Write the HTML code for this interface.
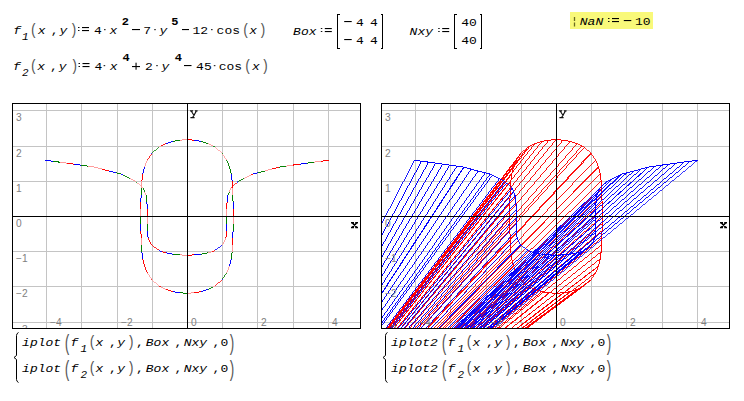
<!DOCTYPE html>
<html><head><meta charset="utf-8"><style>
*{margin:0;padding:0}
html,body{width:744px;height:401px;overflow:hidden;background:#fff}
body{position:relative;font-family:"Liberation Mono",monospace;font-size:13px;color:#000}
.t{position:absolute;white-space:pre;line-height:1}
.i{font-style:italic}
</style></head>
<body><svg width="744" height="401" viewBox="0 0 744 401" style="position:absolute;left:0;top:0"><rect x="570" y="12" width="83" height="17" fill="#f9f97a"/><path d="M574.5 17V21M574.5 22.5V26.5" stroke="#6b6b20" stroke-width="1.3"/><path d="M339.5 14.5H337.5V48.5H339.5M380.5 14.5H382.5V48.5H380.5M456.5 14.5H454.5V48.5H456.5M479.5 14.5H481.5V48.5H479.5" stroke="#000" stroke-width="1" fill="none" shape-rendering="crispEdges"/><path d="M18.5 332.5Q16.5 333.5 16.5 335.5V355.5L14 357.5L16.5 359.5V379.5Q16.5 381.5 18.5 382.5M387.5 332.5Q385.5 333.5 385.5 335.5V355.5L383 357.5L385.5 359.5V379.5Q385.5 381.5 387.5 382.5" stroke="#000" stroke-width="1" fill="none"/><clipPath id="c0"><rect x="13" y="104" width="347" height="224"/></clipPath><path d="M46.5 104V328M81.5 104V328M117.5 104V328M152.5 104V328M222.5 104V328M257.5 104V328M293.5 104V328M328.5 104V328M13 110.5H360M13 146.5H360M13 181.5H360M13 251.5H360M13 286.5H360M13 322.5H360" stroke="#c4c4c4" stroke-width="1" fill="none" shape-rendering="crispEdges"/><g clip-path="url(#c0)" fill="none" shape-rendering="crispEdges"><path d="M137.47 183.00L135.70 181.20" stroke="#008000" stroke-width="0.72"/><path d="M222.38 153.57L221.86 152.96M152.14 152.96L158.70 147.37" stroke="#008000" stroke-width="0.76"/><path d="M222.72 244.74L222.38 245.02" stroke="#008000" stroke-width="0.78"/><path d="M226.52 272.98L222.38 279.43M215.30 147.37L212.96 145.90" stroke="#008000" stroke-width="0.84"/><path d="M130.40 178.77L123.33 175.31M238.30 181.20L243.60 178.77M212.96 287.10L208.22 289.30" stroke="#008000" stroke-width="0.9"/><path d="M144.55 191.82L143.13 188.26M227.87 195.32L229.45 191.82M229.45 166.65L226.52 160.02" stroke="#008000" stroke-width="0.92"/><path d="M144.40 167.08L144.55 166.65" stroke="#008000" stroke-width="0.94"/><path d="M95.02 167.19L94.59 167.08M121.02 174.14L116.25 172.89M264.82 171.00L257.75 172.89M208.22 143.70L201.15 141.46" stroke="#008000" stroke-width="0.96"/><path d="M208.22 252.79L201.15 254.11M87.95 166.09L80.88 165.06M279.41 167.08L286.05 166.09M231.19 174.14L229.60 167.08M179.92 140.15L172.85 141.46" stroke="#008000" stroke-width="0.98"/><path d="M179.92 254.92L172.85 254.11M147.24 230.62L147.12 223.56M226.88 223.56L226.89 216.50M146.98 202.38L146.13 195.32M59.65 162.15L52.58 161.23M314.35 162.15L307.27 163.09M187.00 293.28L179.92 292.85M231.19 258.86L232.15 251.80M141.85 251.80L141.31 244.74M233.03 230.62L233.05 223.56M140.95 223.56L140.95 216.50M233.03 202.38L232.94 195.32M141.06 195.32L141.31 188.26" stroke="#008000" stroke-width="1.0"/><path d="M143.13 188.26L137.47 183.00" stroke="#ff9a9a" stroke-width="0.74"/><path d="M158.70 285.63L152.14 280.04M221.86 152.96L215.30 147.37" stroke="#ff9a9a" stroke-width="0.76"/><path d="M151.62 245.02L151.28 244.74" stroke="#ff9a9a" stroke-width="0.78"/><path d="M212.96 287.10L215.30 285.63M151.62 279.43L147.48 272.98M226.52 160.02L222.38 153.57M161.04 145.90L158.70 147.37" stroke="#ff9a9a" stroke-width="0.84"/><path d="M135.70 181.20L130.40 178.77M250.68 175.31L243.60 178.77M165.78 289.30L161.04 287.10M212.96 145.90L208.22 143.70" stroke="#ff9a9a" stroke-width="0.9"/><path d="M222.72 244.74L225.90 237.68M146.13 195.32L144.55 191.82M230.87 188.26L229.45 191.82M226.52 272.98L229.45 266.35M147.48 160.02L144.55 166.65" stroke="#ff9a9a" stroke-width="0.92"/><path d="M144.55 266.35L144.40 265.92M229.60 167.08L229.45 166.65" stroke="#ff9a9a" stroke-width="0.94"/><path d="M212.11 251.80L208.22 252.79M102.10 169.09L95.02 167.19M271.90 169.09L264.82 171.00" stroke="#ff9a9a" stroke-width="0.96"/><path d="M94.59 167.08L87.95 166.09M293.12 165.06L286.05 166.09" stroke="#ff9a9a" stroke-width="0.98"/><path d="M187.00 255.19L179.92 254.92M147.12 223.56L147.11 216.50M226.89 216.50L226.89 209.44M66.73 163.09L59.65 162.15M321.42 161.23L314.35 162.15M194.08 292.85L187.00 293.28M232.15 251.80L232.69 244.74M141.31 244.74L141.06 237.68M233.05 223.56L233.05 216.50M140.95 216.50L140.95 209.44M232.94 195.32L232.69 188.26M141.31 188.26L141.85 181.20M187.00 139.72L179.92 140.15" stroke="#ff9a9a" stroke-width="1.0"/><path d="M230.87 188.26L236.53 183.00" stroke="#ff0000" stroke-width="0.74"/><path d="M221.86 280.04L215.30 285.63M152.14 280.04L151.62 279.43" stroke="#ff0000" stroke-width="0.76"/><path d="M158.70 250.00L151.62 245.02" stroke="#ff0000" stroke-width="0.82"/><path d="M161.04 287.10L158.70 285.63M147.48 160.02L151.62 153.57" stroke="#ff0000" stroke-width="0.84"/><path d="M212.11 251.80L215.30 250.00" stroke="#ff0000" stroke-width="0.88"/><path d="M252.98 174.14L250.68 175.31M161.04 145.90L165.78 143.70" stroke="#ff0000" stroke-width="0.9"/><path d="M151.28 244.74L148.10 237.68M147.48 272.98L144.55 266.35" stroke="#ff0000" stroke-width="0.92"/><path d="M229.60 265.92L229.45 266.35" stroke="#ff0000" stroke-width="0.94"/><path d="M165.78 252.79L161.89 251.80M109.17 171.00L102.10 169.09M278.98 167.19L271.90 169.09M172.85 291.54L165.78 289.30" stroke="#ff0000" stroke-width="0.96"/><path d="M201.15 291.54L194.08 292.85M144.40 265.92L142.81 258.86" stroke="#ff0000" stroke-width="0.98"/><path d="M194.08 254.92L187.00 255.19M225.90 237.68L226.76 230.62M147.11 216.50L147.11 209.44M226.89 209.44L227.02 202.38M73.80 164.06L66.73 163.09M300.20 164.06L293.12 165.06M328.50 160.33L321.42 161.23M232.69 244.74L232.94 237.68M141.06 237.68L140.97 230.62M233.05 216.50L233.05 209.44M140.95 209.44L140.97 202.38M232.69 188.26L232.15 181.20M141.85 181.20L142.81 174.14M194.08 140.15L187.00 139.72" stroke="#ff0000" stroke-width="1.0"/><path d="M238.30 181.20L236.53 183.00" stroke="#0000ff" stroke-width="0.72"/><path d="M221.86 280.04L222.38 279.43M152.14 152.96L151.62 153.57" stroke="#0000ff" stroke-width="0.76"/><path d="M222.38 245.02L215.30 250.00" stroke="#0000ff" stroke-width="0.82"/><path d="M161.89 251.80L158.70 250.00" stroke="#0000ff" stroke-width="0.88"/><path d="M123.33 175.31L121.02 174.14" stroke="#0000ff" stroke-width="0.9"/><path d="M116.25 172.89L109.17 171.00M252.98 174.14L257.75 172.89M279.41 167.08L278.98 167.19M208.22 289.30L201.15 291.54M172.85 141.46L165.78 143.70" stroke="#0000ff" stroke-width="0.96"/><path d="M172.85 254.11L165.78 252.79M179.92 292.85L172.85 291.54M229.60 265.92L231.19 258.86M142.81 174.14L144.40 167.08M201.15 141.46L194.08 140.15" stroke="#0000ff" stroke-width="0.98"/><path d="M201.15 254.11L194.08 254.92M148.10 237.68L147.24 230.62M226.76 230.62L226.88 223.56M147.11 209.44L146.98 202.38M227.02 202.38L227.87 195.32M52.58 161.23L45.50 160.33M80.88 165.06L73.80 164.06M307.27 163.09L300.20 164.06M142.81 258.86L141.85 251.80M232.94 237.68L233.03 230.62M140.97 230.62L140.95 223.56M233.05 209.44L233.03 202.38M140.97 202.38L141.06 195.32M232.15 181.20L231.19 174.14" stroke="#0000ff" stroke-width="1.0"/></g><g clip-path="url(#c0)" fill="#808080" font-family="Liberation Sans" font-size="10.2"><text x="16" y="121">3</text><text x="16" y="157">2</text><text x="16" y="192">1</text><text x="16" y="227">0</text><text x="16" y="262">−1</text><text x="16" y="297">−2</text><text x="16" y="333">−3</text><text x="50" y="326">−4</text><text x="121" y="326">−2</text><text x="191" y="326">0</text><text x="261" y="326">2</text><text x="332" y="326">4</text></g><path d="M13 216.5H360M187.5 104V328" stroke="#000" stroke-width="1" shape-rendering="crispEdges"/><path d="M190 110.8H193M195 110.8H197.6M191.2 111L194.4 116M196.4 111L192.6 117.6M190.4 117.6H194.6" stroke="#111" stroke-width="1.15" fill="none"/><path d="M352.3 222.9L356.7 227.3M356.6 222.9L352.3 227.3M351 222.7H354M355.2 222.7H358M351 227.5H354M355.2 227.5H358" stroke="#000" stroke-width="1.5" fill="none"/><rect x="12.5" y="103.5" width="348" height="225" fill="none" stroke="#000" stroke-width="1" shape-rendering="crispEdges"/><clipPath id="c369"><rect x="382" y="104" width="347" height="224"/></clipPath><path d="M415.5 104V328M450.5 104V328M486.5 104V328M521.5 104V328M591.5 104V328M626.5 104V328M662.5 104V328M697.5 104V328M382 110.5H729M382 146.5H729M382 181.5H729M382 251.5H729M382 286.5H729M382 322.5H729" stroke="#c4c4c4" stroke-width="1" fill="none" shape-rendering="crispEdges"/><g clip-path="url(#c369)" fill="none" shape-rendering="crispEdges"><path d="M511.81 258.86L202.25 569.50M202.25 569.50L511.81 258.86M600.19 174.14L202.25 569.50M202.25 569.50L600.19 174.14" stroke="#ff0000" stroke-width="0.7"/><path d="M516.48 272.98L202.25 569.50M202.25 569.50L513.55 266.35M513.40 265.92L202.25 569.50M202.25 569.50L516.48 272.98M513.55 266.35L202.25 569.50M202.25 569.50L513.40 265.92M510.85 251.80L202.25 569.50M202.25 569.50L510.85 251.80M510.31 244.74L202.25 569.50M202.25 569.50L510.31 244.74M601.69 188.26L202.25 569.50M202.25 569.50L601.69 188.26M601.15 181.20L202.25 569.50M202.25 569.50L601.15 181.20M598.60 167.08L202.25 569.50M202.25 569.50L598.45 166.65M595.52 160.02L202.25 569.50M202.25 569.50L598.60 167.08M598.45 166.65L202.25 569.50M202.25 569.50L595.52 160.02" stroke="#ff0000" stroke-width="0.72"/><path d="M521.14 280.04L202.25 569.50M202.25 569.50L520.62 279.43M202.25 569.50L521.14 280.04M520.62 279.43L202.25 569.50M510.06 237.68L202.25 569.50M202.25 569.50L510.06 237.68M509.97 230.62L202.25 569.50M202.25 569.50L509.97 230.62M509.95 223.56L202.25 569.50M202.25 569.50L509.95 223.56M602.05 216.50L202.25 569.50M202.25 569.50L602.05 216.50M602.05 209.44L202.25 569.50M202.25 569.50L602.05 209.44M602.03 202.38L202.25 569.50M202.25 569.50L602.03 202.38M601.94 195.32L202.25 569.50M202.25 569.50L601.94 195.32M202.25 569.50L591.38 153.57M590.86 152.96L202.25 569.50M591.38 153.57L202.25 569.50M202.25 569.50L584.30 147.37M581.96 145.90L202.25 569.50M202.25 569.50L590.86 152.96M584.30 147.37L202.25 569.50M202.25 569.50L581.96 145.90" stroke="#ff0000" stroke-width="0.74"/><path d="M202.25 569.50L534.77 289.30M530.04 287.10L202.25 569.50M534.77 289.30L202.25 569.50M202.25 569.50L527.70 285.63M527.70 285.63L521.14 280.04M202.25 569.50L530.04 287.10M527.70 285.63L202.25 569.50M590.86 280.04L584.30 285.63M521.14 280.04L520.62 279.43M590.86 280.04L591.38 279.43M601.94 237.68L202.25 569.50M202.25 569.50L601.94 237.68M602.03 230.62L202.25 569.50M202.25 569.50L602.03 230.62M602.05 223.56L202.25 569.50M509.95 216.50L202.25 569.50M202.25 569.50L602.05 223.56M202.25 569.50L509.95 216.50M509.95 209.44L202.25 569.50M202.25 569.50L509.95 209.44M509.97 202.38L202.25 569.50M202.25 569.50L509.97 202.38M521.14 152.96L520.62 153.57M591.38 153.57L590.86 152.96M521.14 152.96L527.70 147.37M590.86 152.96L584.30 147.37M202.25 569.50L563.08 140.15M202.25 569.50L570.15 141.46M563.08 140.15L202.25 569.50M202.25 569.50L577.23 143.70M570.15 141.46L202.25 569.50M577.23 143.70L202.25 569.50" stroke="#ff0000" stroke-width="0.76"/><path d="M202.25 569.50L541.85 291.54M202.25 569.50L548.92 292.85M541.85 291.54L202.25 569.50M202.25 569.50L556.00 293.28M548.92 292.85L202.25 569.50M556.00 293.28L202.25 569.50M600.19 258.86L202.25 569.50M202.25 569.50L600.19 258.86M601.15 251.80L202.25 569.50M202.25 569.50L601.15 251.80M601.69 244.74L202.25 569.50M202.25 569.50L601.69 244.74M510.06 195.32L202.25 569.50M202.25 569.50L510.06 195.32M510.31 188.26L202.25 569.50M202.25 569.50L510.31 188.26M510.85 181.20L202.25 569.50M202.25 569.50L510.85 181.20M511.81 174.14L202.25 569.50M202.25 569.50L511.81 174.14M534.77 143.70L202.25 569.50M202.25 569.50L541.85 141.46M534.77 143.70L202.25 569.50M202.25 569.50L548.92 140.15M541.85 141.46L202.25 569.50M202.25 569.50L556.00 139.72M548.92 140.15L202.25 569.50M556.00 139.72L202.25 569.50" stroke="#ff0000" stroke-width="0.78"/><path d="M202.25 569.50L563.08 292.85M202.25 569.50L570.15 291.54M563.08 292.85L202.25 569.50M202.25 569.50L577.23 289.30M570.15 291.54L202.25 569.50M202.25 569.50L581.96 287.10M577.23 289.30L202.25 569.50M202.25 569.50L581.96 287.10M584.30 285.63L202.25 569.50M202.25 569.50L590.86 280.04M584.30 285.63L202.25 569.50M202.25 569.50L590.86 280.04M591.38 279.43L202.25 569.50M202.25 569.50L595.52 272.98M591.38 279.43L202.25 569.50M202.25 569.50L595.52 272.98M598.45 266.35L202.25 569.50M202.25 569.50L598.60 265.92M598.45 266.35L202.25 569.50M202.25 569.50L598.60 265.92M513.40 167.08L202.25 569.50M202.25 569.50L513.40 167.08M513.55 166.65L202.25 569.50M202.25 569.50L516.48 160.02M513.55 166.65L202.25 569.50M202.25 569.50L516.48 160.02M520.62 153.57L202.25 569.50M202.25 569.50L521.14 152.96M520.62 153.57L202.25 569.50M202.25 569.50L521.14 152.96M527.70 147.37L202.25 569.50M202.25 569.50L530.04 145.90M527.70 147.37L202.25 569.50M202.25 569.50L530.04 145.90" stroke="#ff0000" stroke-width="0.8"/><path d="M530.04 287.10L527.70 285.63M581.96 287.10L584.30 285.63M520.62 279.43L516.48 272.98M595.52 272.98L591.38 279.43M516.48 160.02L520.62 153.57M595.52 160.02L591.38 153.57M530.04 145.90L527.70 147.37M584.30 147.37L581.96 145.90" stroke="#ff0000" stroke-width="0.84"/><path d="M534.77 289.30L530.04 287.10M581.96 287.10L577.23 289.30M530.04 145.90L534.77 143.70M581.96 145.90L577.23 143.70" stroke="#ff0000" stroke-width="0.9"/><path d="M516.48 272.98L513.55 266.35M595.52 272.98L598.45 266.35M516.48 160.02L513.55 166.65M598.45 166.65L595.52 160.02" stroke="#ff0000" stroke-width="0.92"/><path d="M513.55 266.35L513.40 265.92M598.60 265.92L598.45 266.35M513.40 167.08L513.55 166.65M598.60 167.08L598.45 166.65" stroke="#ff0000" stroke-width="0.94"/><path d="M541.85 291.54L534.77 289.30M577.23 289.30L570.15 291.54M541.85 141.46L534.77 143.70M577.23 143.70L570.15 141.46" stroke="#ff0000" stroke-width="0.96"/><path d="M548.92 292.85L541.85 291.54M570.15 291.54L563.08 292.85M513.40 265.92L511.81 258.86M598.60 265.92L600.19 258.86M511.81 174.14L513.40 167.08M600.19 174.14L598.60 167.08M548.92 140.15L541.85 141.46M570.15 141.46L563.08 140.15" stroke="#ff0000" stroke-width="0.98"/><path d="M556.00 293.28L548.92 292.85M563.08 292.85L556.00 293.28M511.81 258.86L510.85 251.80M600.19 258.86L601.15 251.80M510.85 251.80L510.31 244.74M601.15 251.80L601.69 244.74M510.31 244.74L510.06 237.68M601.69 244.74L601.94 237.68M510.06 237.68L509.97 230.62M601.94 237.68L602.03 230.62M509.97 230.62L509.95 223.56M602.03 230.62L602.05 223.56M509.95 223.56L509.95 216.50M602.05 223.56L602.05 216.50M509.95 216.50L509.95 209.44M602.05 216.50L602.05 209.44M509.95 209.44L509.97 202.38M602.05 209.44L602.03 202.38M509.97 202.38L510.06 195.32M602.03 202.38L601.94 195.32M510.06 195.32L510.31 188.26M601.94 195.32L601.69 188.26M510.31 188.26L510.85 181.20M601.69 188.26L601.15 181.20M510.85 181.20L511.81 174.14M601.15 181.20L600.19 174.14M556.00 139.72L548.92 140.15M563.08 140.15L556.00 139.72" stroke="#ff0000" stroke-width="1.0"/><path d="M202.25 569.50L534.77 252.79M530.89 251.80L202.25 569.50M534.77 252.79L202.25 569.50M202.25 569.50L520.62 245.02M520.28 244.74L202.25 569.50M202.25 569.50L527.70 250.00M520.62 245.02L202.25 569.50M202.25 569.50L530.89 251.80M527.70 250.00L202.25 569.50M202.25 569.50L520.28 244.74M517.10 237.68L202.25 569.50M202.25 569.50L517.10 237.68M596.87 195.32L202.25 569.50M202.25 569.50L596.87 195.32M598.45 191.82L202.25 569.50M202.25 569.50L599.87 188.26M598.45 191.82L202.25 569.50M506.48 183.00L504.70 181.20M202.25 569.50L599.87 188.26M605.52 183.00L202.25 569.50M202.25 569.50L607.30 181.20M607.30 181.20L605.52 183.00M605.52 183.00L202.25 569.50M202.25 569.50L607.30 181.20M612.60 178.77L202.25 569.50M202.25 569.50L619.67 175.31M612.60 178.77L202.25 569.50M202.25 569.50L621.98 174.14M619.67 175.31L202.25 569.50M202.25 569.50L621.98 174.14" stroke="#0000ff" stroke-width="0.72"/><path d="M202.25 569.50L541.85 254.11M202.25 569.50L548.92 254.92M541.85 254.11L202.25 569.50M202.25 569.50L556.00 255.19M548.92 254.92L202.25 569.50M556.00 255.19L202.25 569.50M516.24 230.62L202.25 569.50M202.25 569.50L516.24 230.62M516.12 223.56L202.25 569.50M202.25 569.50L516.12 223.56M516.11 216.50L202.25 569.50M595.89 216.50L202.25 569.50M202.25 569.50L516.11 216.50M202.25 569.50L595.89 216.50M595.89 209.44L202.25 569.50M202.25 569.50L595.89 209.44M596.02 202.38L202.25 569.50M202.25 569.50L596.02 202.38M512.13 188.26L506.48 183.00M599.87 188.26L605.52 183.00M626.75 172.89L202.25 569.50M202.25 569.50L633.83 171.00M626.75 172.89L202.25 569.50M202.25 569.50L640.90 169.09M633.83 171.00L202.25 569.50M202.25 569.50L647.98 167.19M640.90 169.09L202.25 569.50M202.25 569.50L648.41 167.08M647.98 167.19L202.25 569.50M202.25 569.50L648.41 167.08M655.05 166.09L202.25 569.50M655.05 166.09L202.25 569.50" stroke="#0000ff" stroke-width="0.74"/><path d="M202.25 569.50L563.08 254.92M202.25 569.50L570.15 254.11M563.08 254.92L202.25 569.50M202.25 569.50L577.23 252.79M570.15 254.11L202.25 569.50M202.25 569.50L581.11 251.80M577.23 252.79L202.25 569.50M202.25 569.50L581.11 251.80M584.30 250.00L202.25 569.50M202.25 569.50L591.38 245.02M584.30 250.00L202.25 569.50M202.25 569.50L591.72 244.74M591.38 245.02L202.25 569.50M202.25 569.50L591.72 244.74M594.90 237.68L202.25 569.50M202.25 569.50L594.90 237.68M595.76 230.62L202.25 569.50M202.25 569.50L595.76 230.62M595.88 223.56L202.25 569.50M202.25 569.50L595.88 223.56M516.11 209.44L202.25 569.50M202.25 569.50L516.11 209.44M515.98 202.38L202.25 569.50M202.25 569.50L515.98 202.38M515.13 195.32L202.25 569.50M202.25 569.50L515.13 195.32M202.25 569.50L662.12 165.06M202.25 569.50L669.20 164.06M662.12 165.06L202.25 569.50M202.25 569.50L676.27 163.09M669.20 164.06L202.25 569.50M202.25 569.50L683.35 162.15M676.27 163.09L202.25 569.50M202.25 569.50L690.42 161.23M683.35 162.15L202.25 569.50M690.42 161.23L202.25 569.50" stroke="#0000ff" stroke-width="0.76"/><path d="M520.62 245.02L520.28 244.74M591.72 244.74L591.38 245.02M202.25 569.50L513.55 191.82M512.13 188.26L202.25 569.50M513.55 191.82L202.25 569.50M202.25 569.50L506.48 183.00M504.70 181.20L202.25 569.50M202.25 569.50L512.13 188.26M506.48 183.00L202.25 569.50M202.25 569.50L504.70 181.20M202.25 569.50L697.50 160.33" stroke="#0000ff" stroke-width="0.78"/><path d="M202.25 569.50L492.32 175.31M490.02 174.14L202.25 569.50M202.25 569.50L499.40 178.77M492.32 175.31L202.25 569.50M499.40 178.77L202.25 569.50M202.25 569.50L490.02 174.14" stroke="#0000ff" stroke-width="0.8"/><path d="M527.70 250.00L520.62 245.02M591.38 245.02L584.30 250.00M202.25 569.50L478.18 171.00M202.25 569.50L485.25 172.89M478.18 171.00L202.25 569.50M485.25 172.89L202.25 569.50" stroke="#0000ff" stroke-width="0.82"/><path d="M202.25 569.50L464.02 167.19M463.59 167.08L202.25 569.50M202.25 569.50L471.10 169.09M464.02 167.19L202.25 569.50M471.10 169.09L202.25 569.50M202.25 569.50L456.95 166.09M202.25 569.50L463.59 167.08M456.95 166.09L202.25 569.50" stroke="#0000ff" stroke-width="0.84"/><path d="M202.25 569.50L435.73 163.09M202.25 569.50L442.80 164.06M435.73 163.09L202.25 569.50M202.25 569.50L449.88 165.06M442.80 164.06L202.25 569.50M449.88 165.06L202.25 569.50" stroke="#0000ff" stroke-width="0.86"/><path d="M530.89 251.80L527.70 250.00M581.11 251.80L584.30 250.00M202.25 569.50L421.58 161.23M414.50 160.33L202.25 569.50M202.25 569.50L428.65 162.15M421.58 161.23L202.25 569.50M428.65 162.15L202.25 569.50" stroke="#0000ff" stroke-width="0.88"/><path d="M492.32 175.31L490.02 174.14M499.40 178.77L492.32 175.31M504.70 181.20L499.40 178.77M607.30 181.20L612.60 178.77M619.67 175.31L612.60 178.77M621.98 174.14L619.67 175.31" stroke="#0000ff" stroke-width="0.9"/><path d="M520.28 244.74L517.10 237.68M591.72 244.74L594.90 237.68M513.55 191.82L512.13 188.26M515.13 195.32L513.55 191.82M596.87 195.32L598.45 191.82M599.87 188.26L598.45 191.82" stroke="#0000ff" stroke-width="0.92"/><path d="M534.77 252.79L530.89 251.80M581.11 251.80L577.23 252.79M464.02 167.19L463.59 167.08M471.10 169.09L464.02 167.19M478.18 171.00L471.10 169.09M485.25 172.89L478.18 171.00M490.02 174.14L485.25 172.89M621.98 174.14L626.75 172.89M633.83 171.00L626.75 172.89M640.90 169.09L633.83 171.00M647.98 167.19L640.90 169.09M648.41 167.08L647.98 167.19" stroke="#0000ff" stroke-width="0.96"/><path d="M541.85 254.11L534.77 252.79M577.23 252.79L570.15 254.11M456.95 166.09L449.88 165.06M463.59 167.08L456.95 166.09M648.41 167.08L655.05 166.09M662.12 165.06L655.05 166.09" stroke="#0000ff" stroke-width="0.98"/><path d="M548.92 254.92L541.85 254.11M556.00 255.19L548.92 254.92M563.08 254.92L556.00 255.19M570.15 254.11L563.08 254.92M517.10 237.68L516.24 230.62M594.90 237.68L595.76 230.62M516.24 230.62L516.12 223.56M595.76 230.62L595.88 223.56M516.12 223.56L516.11 216.50M595.88 223.56L595.89 216.50M516.11 216.50L516.11 209.44M595.89 216.50L595.89 209.44M516.11 209.44L515.98 202.38M595.89 209.44L596.02 202.38M515.98 202.38L515.13 195.32M596.02 202.38L596.87 195.32M421.58 161.23L414.50 160.33M428.65 162.15L421.58 161.23M435.73 163.09L428.65 162.15M442.80 164.06L435.73 163.09M449.88 165.06L442.80 164.06M669.20 164.06L662.12 165.06M676.27 163.09L669.20 164.06M683.35 162.15L676.27 163.09M690.42 161.23L683.35 162.15M697.50 160.33L690.42 161.23" stroke="#0000ff" stroke-width="1.0"/></g><g clip-path="url(#c369)" fill="#808080" font-family="Liberation Sans" font-size="10.2"><text x="385" y="121">3</text><text x="385" y="157">2</text><text x="385" y="192">1</text><text x="385" y="227">0</text><text x="385" y="262">−1</text><text x="385" y="297">−2</text><text x="385" y="333">−3</text><text x="419" y="326">−4</text><text x="490" y="326">−2</text><text x="560" y="326">0</text><text x="630" y="326">2</text><text x="701" y="326">4</text></g><path d="M382 216.5H729M556.5 104V328" stroke="#000" stroke-width="1" shape-rendering="crispEdges"/><path d="M559 110.8H562M564 110.8H566.6M560.2 111L563.4 116M565.4 111L561.6 117.6M559.4 117.6H563.6" stroke="#111" stroke-width="1.15" fill="none"/><path d="M721.3 222.9L725.7 227.3M725.6 222.9L721.3 227.3M720 222.7H723M724.2 222.7H727M720 227.5H723M724.2 227.5H727" stroke="#000" stroke-width="1.5" fill="none"/><rect x="381.5" y="103.5" width="348" height="225" fill="none" stroke="#000" stroke-width="1" shape-rendering="crispEdges"/><text transform="translate(13.20,34.00) scale(1,0.86)" font-family="Liberation Mono" font-size="13" font-style="italic" font-weight="normal" fill="#000">f</text><text transform="translate(22.00,40.00) scale(1,0.92)" font-family="Liberation Mono" font-size="11" font-style="italic" font-weight="normal" fill="#000">1</text><text transform="translate(29.80,35.00) scale(1,1.2)" font-family="Liberation Mono" font-size="13" font-style="normal" font-weight="normal" fill="#555">(</text><text transform="translate(37.80,34.00) scale(1,0.86)" font-family="Liberation Mono" font-size="13" font-style="italic" font-weight="normal" fill="#000">x</text><text transform="translate(50.70,34.00) scale(1,0.885)" font-family="Liberation Mono" font-size="13" font-style="normal" font-weight="normal" fill="#000">,</text><text transform="translate(59.60,34.00) scale(1,0.86)" font-family="Liberation Mono" font-size="13" font-style="italic" font-weight="normal" fill="#000">y</text><text transform="translate(69.70,35.00) scale(1,1.2)" font-family="Liberation Mono" font-size="13" font-style="normal" font-weight="normal" fill="#555">)</text><text transform="translate(94.00,34.00) scale(1,0.885)" font-family="Liberation Mono" font-size="13" font-style="normal" font-weight="normal" fill="#000">4</text><text transform="translate(109.60,34.00) scale(1,0.86)" font-family="Liberation Mono" font-size="13" font-style="italic" font-weight="normal" fill="#000">x</text><text transform="translate(121.70,25.00) scale(1,0.9)" font-family="Liberation Mono" font-size="12" font-style="normal" font-weight="bold" fill="#000">2</text><text transform="translate(143.30,34.00) scale(1,0.885)" font-family="Liberation Mono" font-size="13" font-style="normal" font-weight="normal" fill="#000">7</text><text transform="translate(159.60,34.00) scale(1,0.86)" font-family="Liberation Mono" font-size="13" font-style="italic" font-weight="normal" fill="#000">y</text><text transform="translate(171.20,25.00) scale(1,0.9)" font-family="Liberation Mono" font-size="12" font-style="normal" font-weight="bold" fill="#000">5</text><text transform="translate(192.50,34.00) scale(1,0.885)" font-family="Liberation Mono" font-size="13" font-style="normal" font-weight="normal" fill="#000">12</text><text transform="translate(216.60,34.00) scale(1,0.885)" font-family="Liberation Mono" font-size="13" font-style="normal" font-weight="normal" fill="#000">cos</text><text transform="translate(241.90,35.00) scale(1,1.2)" font-family="Liberation Mono" font-size="13" font-style="normal" font-weight="normal" fill="#555">(</text><text transform="translate(249.20,34.00) scale(1,0.86)" font-family="Liberation Mono" font-size="13" font-style="italic" font-weight="normal" fill="#000">x</text><text transform="translate(258.70,35.00) scale(1,1.2)" font-family="Liberation Mono" font-size="13" font-style="normal" font-weight="normal" fill="#555">)</text><text transform="translate(13.00,70.00) scale(1,0.86)" font-family="Liberation Mono" font-size="13" font-style="italic" font-weight="normal" fill="#000">f</text><text transform="translate(22.10,76.00) scale(1,0.92)" font-family="Liberation Mono" font-size="11" font-style="italic" font-weight="normal" fill="#000">2</text><text transform="translate(29.70,71.00) scale(1,1.2)" font-family="Liberation Mono" font-size="13" font-style="normal" font-weight="normal" fill="#555">(</text><text transform="translate(37.20,70.00) scale(1,0.86)" font-family="Liberation Mono" font-size="13" font-style="italic" font-weight="normal" fill="#000">x</text><text transform="translate(50.00,70.00) scale(1,0.885)" font-family="Liberation Mono" font-size="13" font-style="normal" font-weight="normal" fill="#000">,</text><text transform="translate(58.80,70.00) scale(1,0.86)" font-family="Liberation Mono" font-size="13" font-style="italic" font-weight="normal" fill="#000">y</text><text transform="translate(70.50,71.00) scale(1,1.2)" font-family="Liberation Mono" font-size="13" font-style="normal" font-weight="normal" fill="#555">)</text><text transform="translate(94.50,70.00) scale(1,0.885)" font-family="Liberation Mono" font-size="13" font-style="normal" font-weight="normal" fill="#000">4</text><text transform="translate(109.80,70.00) scale(1,0.86)" font-family="Liberation Mono" font-size="13" font-style="italic" font-weight="normal" fill="#000">x</text><text transform="translate(122.40,61.00) scale(1,0.9)" font-family="Liberation Mono" font-size="12" font-style="normal" font-weight="bold" fill="#000">4</text><text transform="translate(145.00,70.00) scale(1,0.885)" font-family="Liberation Mono" font-size="13" font-style="normal" font-weight="normal" fill="#000">2</text><text transform="translate(161.50,70.00) scale(1,0.86)" font-family="Liberation Mono" font-size="13" font-style="italic" font-weight="normal" fill="#000">y</text><text transform="translate(174.80,61.00) scale(1,0.9)" font-family="Liberation Mono" font-size="12" font-style="normal" font-weight="bold" fill="#000">4</text><text transform="translate(196.10,70.00) scale(1,0.885)" font-family="Liberation Mono" font-size="13" font-style="normal" font-weight="normal" fill="#000">45</text><text transform="translate(218.70,70.00) scale(1,0.885)" font-family="Liberation Mono" font-size="13" font-style="normal" font-weight="normal" fill="#000">cos</text><text transform="translate(243.90,71.00) scale(1,1.2)" font-family="Liberation Mono" font-size="13" font-style="normal" font-weight="normal" fill="#555">(</text><text transform="translate(251.90,70.00) scale(1,0.86)" font-family="Liberation Mono" font-size="13" font-style="italic" font-weight="normal" fill="#000">x</text><text transform="translate(261.30,71.00) scale(1,1.2)" font-family="Liberation Mono" font-size="13" font-style="normal" font-weight="normal" fill="#555">)</text><text transform="translate(293.10,35.00) scale(1,0.86)" font-family="Liberation Mono" font-size="13" font-style="italic" font-weight="normal" fill="#000">Box</text><text transform="translate(356.00,26.00) scale(1,0.885)" font-family="Liberation Mono" font-size="13" font-style="normal" font-weight="normal" fill="#000">4</text><text transform="translate(370.00,26.00) scale(1,0.885)" font-family="Liberation Mono" font-size="13" font-style="normal" font-weight="normal" fill="#000">4</text><text transform="translate(356.00,44.00) scale(1,0.885)" font-family="Liberation Mono" font-size="13" font-style="normal" font-weight="normal" fill="#000">4</text><text transform="translate(370.00,44.00) scale(1,0.885)" font-family="Liberation Mono" font-size="13" font-style="normal" font-weight="normal" fill="#000">4</text><text transform="translate(409.60,35.00) scale(1,0.86)" font-family="Liberation Mono" font-size="13" font-style="italic" font-weight="normal" fill="#000">Nxy</text><text transform="translate(461.30,26.00) scale(1,0.885)" font-family="Liberation Mono" font-size="13" font-style="normal" font-weight="normal" fill="#000">40</text><text transform="translate(461.30,44.00) scale(1,0.885)" font-family="Liberation Mono" font-size="13" font-style="normal" font-weight="normal" fill="#000">40</text><text transform="translate(579.80,25.00) scale(1,0.86)" font-family="Liberation Mono" font-size="13" font-style="italic" font-weight="normal" fill="#000">NaN</text><text transform="translate(635.00,25.00) scale(1,0.885)" font-family="Liberation Mono" font-size="13" font-style="normal" font-weight="normal" fill="#000">10</text><text transform="translate(22.10,346.00) scale(1,0.86)" font-family="Liberation Mono" font-size="13" font-style="italic" font-weight="normal" fill="#000">iplot</text><text transform="translate(63.60,350.00) scale(1,1.65)" font-family="Liberation Mono" font-size="13" font-style="normal" font-weight="normal" fill="#555">(</text><text transform="translate(70.50,346.00) scale(1,0.86)" font-family="Liberation Mono" font-size="13" font-style="italic" font-weight="normal" fill="#000">f</text><text transform="translate(80.40,352.00) scale(1,0.92)" font-family="Liberation Mono" font-size="11" font-style="italic" font-weight="normal" fill="#000">1</text><text transform="translate(88.60,347.00) scale(1,1.2)" font-family="Liberation Mono" font-size="13" font-style="normal" font-weight="normal" fill="#555">(</text><text transform="translate(95.50,346.00) scale(1,0.86)" font-family="Liberation Mono" font-size="13" font-style="italic" font-weight="normal" fill="#000">x</text><text transform="translate(109.00,346.00) scale(1,0.885)" font-family="Liberation Mono" font-size="13" font-style="normal" font-weight="normal" fill="#000">,</text><text transform="translate(117.30,346.00) scale(1,0.86)" font-family="Liberation Mono" font-size="13" font-style="italic" font-weight="normal" fill="#000">y</text><text transform="translate(126.90,347.00) scale(1,1.2)" font-family="Liberation Mono" font-size="13" font-style="normal" font-weight="normal" fill="#555">)</text><text transform="translate(136.00,346.00) scale(1,0.885)" font-family="Liberation Mono" font-size="13" font-style="normal" font-weight="normal" fill="#000">,</text><text transform="translate(145.80,346.00) scale(1,0.86)" font-family="Liberation Mono" font-size="13" font-style="italic" font-weight="normal" fill="#000">Box</text><text transform="translate(174.60,346.00) scale(1,0.885)" font-family="Liberation Mono" font-size="13" font-style="normal" font-weight="normal" fill="#000">,</text><text transform="translate(183.70,346.00) scale(1,0.86)" font-family="Liberation Mono" font-size="13" font-style="italic" font-weight="normal" fill="#000">Nxy</text><text transform="translate(212.50,346.00) scale(1,0.885)" font-family="Liberation Mono" font-size="13" font-style="normal" font-weight="normal" fill="#000">,</text><text transform="translate(220.60,346.00) scale(1,0.885)" font-family="Liberation Mono" font-size="13" font-style="normal" font-weight="normal" fill="#000">0</text><text transform="translate(227.70,350.00) scale(1,1.65)" font-family="Liberation Mono" font-size="13" font-style="normal" font-weight="normal" fill="#555">)</text><text transform="translate(22.10,372.00) scale(1,0.86)" font-family="Liberation Mono" font-size="13" font-style="italic" font-weight="normal" fill="#000">iplot</text><text transform="translate(63.60,376.00) scale(1,1.65)" font-family="Liberation Mono" font-size="13" font-style="normal" font-weight="normal" fill="#555">(</text><text transform="translate(70.50,372.00) scale(1,0.86)" font-family="Liberation Mono" font-size="13" font-style="italic" font-weight="normal" fill="#000">f</text><text transform="translate(80.40,378.00) scale(1,0.92)" font-family="Liberation Mono" font-size="11" font-style="italic" font-weight="normal" fill="#000">2</text><text transform="translate(88.60,373.00) scale(1,1.2)" font-family="Liberation Mono" font-size="13" font-style="normal" font-weight="normal" fill="#555">(</text><text transform="translate(95.50,372.00) scale(1,0.86)" font-family="Liberation Mono" font-size="13" font-style="italic" font-weight="normal" fill="#000">x</text><text transform="translate(109.00,372.00) scale(1,0.885)" font-family="Liberation Mono" font-size="13" font-style="normal" font-weight="normal" fill="#000">,</text><text transform="translate(117.30,372.00) scale(1,0.86)" font-family="Liberation Mono" font-size="13" font-style="italic" font-weight="normal" fill="#000">y</text><text transform="translate(126.90,373.00) scale(1,1.2)" font-family="Liberation Mono" font-size="13" font-style="normal" font-weight="normal" fill="#555">)</text><text transform="translate(136.00,372.00) scale(1,0.885)" font-family="Liberation Mono" font-size="13" font-style="normal" font-weight="normal" fill="#000">,</text><text transform="translate(145.80,372.00) scale(1,0.86)" font-family="Liberation Mono" font-size="13" font-style="italic" font-weight="normal" fill="#000">Box</text><text transform="translate(174.60,372.00) scale(1,0.885)" font-family="Liberation Mono" font-size="13" font-style="normal" font-weight="normal" fill="#000">,</text><text transform="translate(183.70,372.00) scale(1,0.86)" font-family="Liberation Mono" font-size="13" font-style="italic" font-weight="normal" fill="#000">Nxy</text><text transform="translate(212.50,372.00) scale(1,0.885)" font-family="Liberation Mono" font-size="13" font-style="normal" font-weight="normal" fill="#000">,</text><text transform="translate(220.60,372.00) scale(1,0.885)" font-family="Liberation Mono" font-size="13" font-style="normal" font-weight="normal" fill="#000">0</text><text transform="translate(227.70,376.00) scale(1,1.65)" font-family="Liberation Mono" font-size="13" font-style="normal" font-weight="normal" fill="#555">)</text><text transform="translate(391.10,346.00) scale(1,0.86)" font-family="Liberation Mono" font-size="13" font-style="italic" font-weight="normal" fill="#000">iplot2</text><text transform="translate(440.60,350.00) scale(1,1.65)" font-family="Liberation Mono" font-size="13" font-style="normal" font-weight="normal" fill="#555">(</text><text transform="translate(447.50,346.00) scale(1,0.86)" font-family="Liberation Mono" font-size="13" font-style="italic" font-weight="normal" fill="#000">f</text><text transform="translate(457.40,352.00) scale(1,0.92)" font-family="Liberation Mono" font-size="11" font-style="italic" font-weight="normal" fill="#000">1</text><text transform="translate(465.60,347.00) scale(1,1.2)" font-family="Liberation Mono" font-size="13" font-style="normal" font-weight="normal" fill="#555">(</text><text transform="translate(472.50,346.00) scale(1,0.86)" font-family="Liberation Mono" font-size="13" font-style="italic" font-weight="normal" fill="#000">x</text><text transform="translate(486.00,346.00) scale(1,0.885)" font-family="Liberation Mono" font-size="13" font-style="normal" font-weight="normal" fill="#000">,</text><text transform="translate(494.30,346.00) scale(1,0.86)" font-family="Liberation Mono" font-size="13" font-style="italic" font-weight="normal" fill="#000">y</text><text transform="translate(503.90,347.00) scale(1,1.2)" font-family="Liberation Mono" font-size="13" font-style="normal" font-weight="normal" fill="#555">)</text><text transform="translate(513.00,346.00) scale(1,0.885)" font-family="Liberation Mono" font-size="13" font-style="normal" font-weight="normal" fill="#000">,</text><text transform="translate(522.80,346.00) scale(1,0.86)" font-family="Liberation Mono" font-size="13" font-style="italic" font-weight="normal" fill="#000">Box</text><text transform="translate(551.60,346.00) scale(1,0.885)" font-family="Liberation Mono" font-size="13" font-style="normal" font-weight="normal" fill="#000">,</text><text transform="translate(560.70,346.00) scale(1,0.86)" font-family="Liberation Mono" font-size="13" font-style="italic" font-weight="normal" fill="#000">Nxy</text><text transform="translate(589.50,346.00) scale(1,0.885)" font-family="Liberation Mono" font-size="13" font-style="normal" font-weight="normal" fill="#000">,</text><text transform="translate(597.60,346.00) scale(1,0.885)" font-family="Liberation Mono" font-size="13" font-style="normal" font-weight="normal" fill="#000">0</text><text transform="translate(604.70,350.00) scale(1,1.65)" font-family="Liberation Mono" font-size="13" font-style="normal" font-weight="normal" fill="#555">)</text><text transform="translate(391.10,372.00) scale(1,0.86)" font-family="Liberation Mono" font-size="13" font-style="italic" font-weight="normal" fill="#000">iplot2</text><text transform="translate(440.60,376.00) scale(1,1.65)" font-family="Liberation Mono" font-size="13" font-style="normal" font-weight="normal" fill="#555">(</text><text transform="translate(447.50,372.00) scale(1,0.86)" font-family="Liberation Mono" font-size="13" font-style="italic" font-weight="normal" fill="#000">f</text><text transform="translate(457.40,378.00) scale(1,0.92)" font-family="Liberation Mono" font-size="11" font-style="italic" font-weight="normal" fill="#000">2</text><text transform="translate(465.60,373.00) scale(1,1.2)" font-family="Liberation Mono" font-size="13" font-style="normal" font-weight="normal" fill="#555">(</text><text transform="translate(472.50,372.00) scale(1,0.86)" font-family="Liberation Mono" font-size="13" font-style="italic" font-weight="normal" fill="#000">x</text><text transform="translate(486.00,372.00) scale(1,0.885)" font-family="Liberation Mono" font-size="13" font-style="normal" font-weight="normal" fill="#000">,</text><text transform="translate(494.30,372.00) scale(1,0.86)" font-family="Liberation Mono" font-size="13" font-style="italic" font-weight="normal" fill="#000">y</text><text transform="translate(503.90,373.00) scale(1,1.2)" font-family="Liberation Mono" font-size="13" font-style="normal" font-weight="normal" fill="#555">)</text><text transform="translate(513.00,372.00) scale(1,0.885)" font-family="Liberation Mono" font-size="13" font-style="normal" font-weight="normal" fill="#000">,</text><text transform="translate(522.80,372.00) scale(1,0.86)" font-family="Liberation Mono" font-size="13" font-style="italic" font-weight="normal" fill="#000">Box</text><text transform="translate(551.60,372.00) scale(1,0.885)" font-family="Liberation Mono" font-size="13" font-style="normal" font-weight="normal" fill="#000">,</text><text transform="translate(560.70,372.00) scale(1,0.86)" font-family="Liberation Mono" font-size="13" font-style="italic" font-weight="normal" fill="#000">Nxy</text><text transform="translate(589.50,372.00) scale(1,0.885)" font-family="Liberation Mono" font-size="13" font-style="normal" font-weight="normal" fill="#000">,</text><text transform="translate(597.60,372.00) scale(1,0.885)" font-family="Liberation Mono" font-size="13" font-style="normal" font-weight="normal" fill="#000">0</text><text transform="translate(604.70,376.00) scale(1,1.65)" font-family="Liberation Mono" font-size="13" font-style="normal" font-weight="normal" fill="#555">)</text><rect x="78.0" y="27" width="1.5" height="1" fill="#111"/><rect x="78.0" y="30" width="1.5" height="1" fill="#111"/><rect x="82.0" y="27" width="7" height="1.1" fill="#000"/><rect x="82.0" y="30" width="7" height="1.1" fill="#000"/><rect x="104.0" y="29" width="1.6" height="1.2" fill="#333"/><rect x="132.0" y="29" width="8" height="1.1" fill="#000"/><rect x="154.2" y="29" width="1.6" height="1.2" fill="#333"/><rect x="182.0" y="29" width="7" height="1.1" fill="#000"/><rect x="211.0" y="29" width="1.6" height="1.2" fill="#333"/><rect x="78.5" y="63" width="1.5" height="1" fill="#111"/><rect x="78.5" y="66" width="1.5" height="1" fill="#111"/><rect x="82.5" y="63" width="7" height="1.1" fill="#000"/><rect x="82.5" y="66" width="7" height="1.1" fill="#000"/><rect x="103.6" y="65" width="1.6" height="1.2" fill="#333"/><rect x="132.0" y="66" width="8" height="1.1" fill="#000"/><rect x="135.5" y="62.7" width="1.1" height="7" fill="#000"/><rect x="156.2" y="65" width="1.6" height="1.2" fill="#333"/><rect x="184.0" y="65" width="7.5" height="1.1" fill="#000"/><rect x="213.8" y="65" width="1.6" height="1.2" fill="#333"/><rect x="320.8" y="28" width="1.5" height="1" fill="#111"/><rect x="320.8" y="31" width="1.5" height="1" fill="#111"/><rect x="324.8" y="28" width="7" height="1.1" fill="#000"/><rect x="324.8" y="31" width="7" height="1.1" fill="#000"/><rect x="344.2" y="21" width="7.5" height="1.1" fill="#000"/><rect x="344.2" y="39" width="7.5" height="1.1" fill="#000"/><rect x="438.2" y="28" width="1.5" height="1" fill="#111"/><rect x="438.2" y="31" width="1.5" height="1" fill="#111"/><rect x="442.2" y="28" width="7" height="1.1" fill="#000"/><rect x="442.2" y="31" width="7" height="1.1" fill="#000"/><rect x="608.0" y="18" width="1.5" height="1" fill="#111"/><rect x="608.0" y="21" width="1.5" height="1" fill="#111"/><rect x="612.0" y="18" width="7" height="1.1" fill="#000"/><rect x="612.0" y="21" width="7" height="1.1" fill="#000"/><rect x="623.8" y="20" width="7.5" height="1.1" fill="#000"/></svg></body></html>
